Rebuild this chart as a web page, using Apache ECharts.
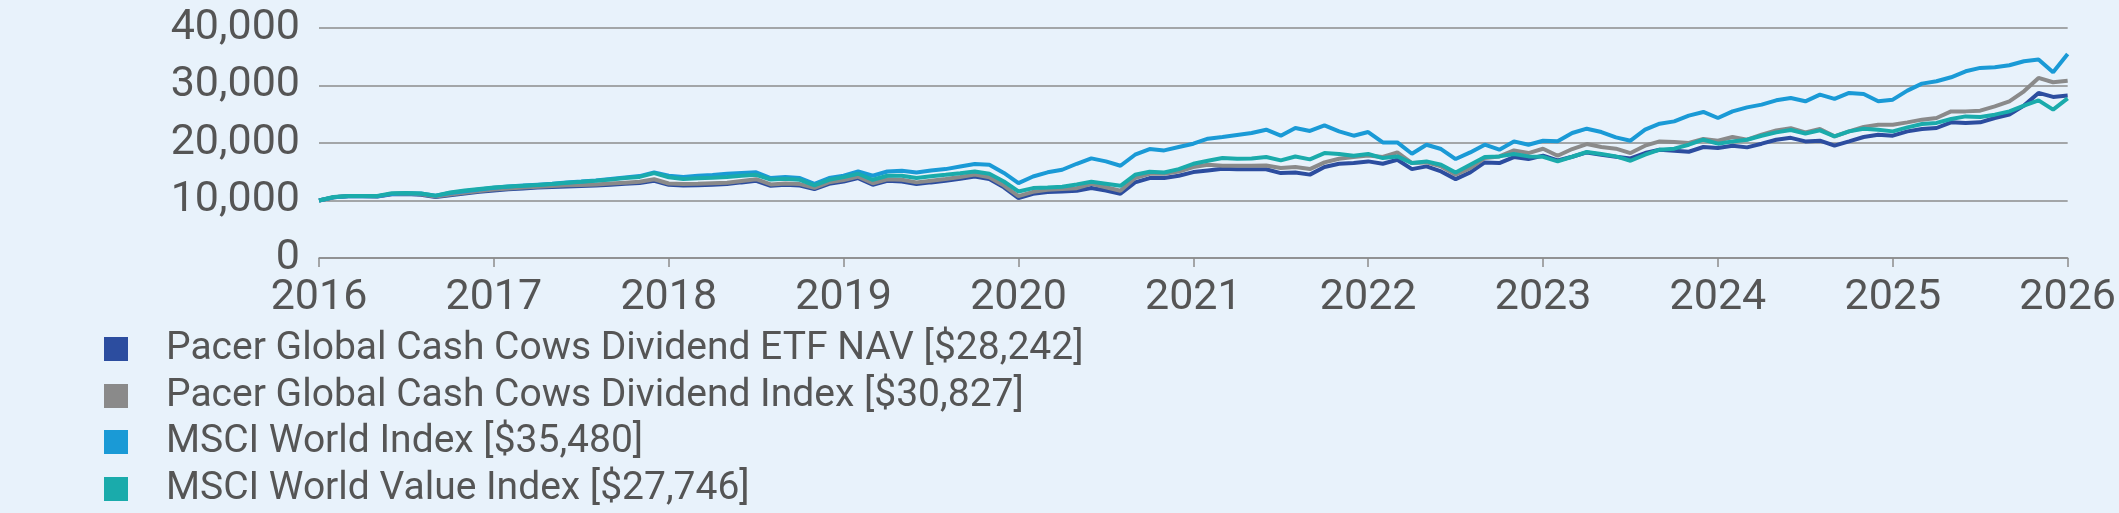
<!DOCTYPE html>
<html>
<head>
<meta charset="utf-8">
<script src="https://cdn.jsdelivr.net/npm/echarts@6/dist/echarts.min.js"></script>
<style>
  html, body { margin: 0; padding: 0; background: #e8f2fb; }
  #chart { width: 2119px; height: 513px; }
</style>
</head>
<body>
<div id="chart"></div>
<script>
// growth of $10,000, month-end values, 2016 -> 2026
var seriesNames = [
  'Pacer Global Cash Cows Dividend ETF NAV [$28,242]',
  'Pacer Global Cash Cows Dividend Index [$30,827]',
  'MSCI World Index [$35,480]',
  'MSCI World Value Index [$27,746]'
];
var colors = ['#2c4d9f', '#8a8a8a', '#1a9ad6', '#1aabab'];
var yearTicks = [2016, 2017, 2018, 2019, 2020, 2021, 2022, 2023, 2024, 2025, 2026];

var etfNav = [
  10000, 10550, 10750, 10750, 10700, 11100, 11150, 11000, 10600, 10900, 11200, 11500,
  11750, 11950, 12100, 12250, 12350, 12450, 12500, 12600, 12750, 12900, 13030, 13430,
  12730, 12620, 12650, 12750, 12860, 13150, 13430, 12560, 12730, 12600, 11980, 12910,
  13310, 13900, 12730, 13430, 13310, 12850, 13150, 13430, 13800, 14180, 13720, 12300,
  10410, 11170, 11460, 11570, 11690, 12160, 11750, 11170, 13140, 13900, 13900, 14300,
  14940, 15230, 15520, 15440, 15440, 15440, 14770, 14880, 14500, 15820, 16390, 16510,
  16800, 16390, 17090, 15460, 15930, 15050, 13720, 14880, 16620, 16510, 17560, 17210,
  17800, 16970, 17610, 18360, 17960, 17610, 17320, 18250, 18830, 18660, 18480, 19300,
  19130, 19530, 19240, 19880, 20570, 20900, 20280, 20400, 19530, 20280, 21040, 21440,
  21270, 22020, 22430, 22610, 23590, 23470, 23590, 24350, 24930, 26500, 28710, 28010,
  28242
];
var cowsIndex = [
  10000, 10570, 10770, 10770, 10720, 11150, 11200, 11080, 10700, 11050, 11350, 11650,
  11900, 12100, 12250, 12400, 12500, 12650, 12700, 12800, 12950, 13100, 13250, 13700,
  12950, 12850, 12900, 13000, 13100, 13400, 13700, 12800, 12950, 12850, 12200, 13150,
  13550, 14150, 13000, 13700, 13600, 13150, 13450, 13750, 14100, 14500, 14050, 12600,
  10750, 11500, 11850, 11980, 12150, 12910, 12300, 11690, 13900, 14650, 14650, 15050,
  15820, 16220, 16040, 16040, 16040, 16100, 15640, 15820, 15460, 16620, 17260, 17560,
  17840, 17560, 18360, 16510, 16620, 15930, 14470, 15640, 17380, 17670, 18710, 18250,
  19000, 17790, 18950, 19820, 19300, 19010, 18250, 19530, 20280, 20160, 20000, 20690,
  20400, 21040, 20570, 21440, 22190, 22580, 21850, 22430, 21150, 22020, 22780, 23190,
  23190, 23590, 24060, 24350, 25500, 25500, 25620, 26370, 27250, 28990, 31320, 30560,
  30827
];
var msciWorld = [
  10000, 10550, 10750, 10800, 10750, 11150, 11250, 11200, 10850, 11300, 11600, 11900,
  12200, 12450, 12600, 12750, 12900, 13150, 13300, 13500, 13750, 14000, 14250, 14900,
  14300, 14100, 14300, 14450, 14650, 14800, 14900, 13900, 14100, 13900, 12900, 13900,
  14300, 15050, 14300, 15050, 15170, 14880, 15200, 15460, 15900, 16340, 16230, 14800,
  13030, 14180, 14900, 15350, 16390, 17320, 16800, 16040, 17960, 18950, 18710, 19300,
  19880, 20750, 21040, 21390, 21740, 22310, 21270, 22610, 22100, 23060, 22020, 21270,
  21910, 20100, 20100, 18130, 19700, 18950, 17210, 18360, 19700, 18830, 20280, 19700,
  20400, 20300, 21740, 22490, 21910, 20970, 20400, 22310, 23360, 23760, 24750, 25400,
  24350, 25500, 26200, 26670, 27420, 27830, 27250, 28410, 27660, 28700, 28530, 27250,
  27540, 29110, 30330, 30730, 31430, 32470, 33060, 33170, 33520, 34210, 34510, 32300,
  35480
];
var msciValue = [
  10000, 10600, 10800, 10800, 10800, 11250, 11300, 11200, 10850, 11400, 11750, 12000,
  12250, 12450, 12550, 12700, 12850, 13100, 13250, 13430, 13650, 13900, 14100, 14750,
  14050, 13750, 13850, 13950, 14100, 14300, 14470, 13650, 13780, 13600, 12650, 13600,
  14070, 14650, 13600, 14300, 14300, 13900, 14200, 14470, 14750, 15050, 14650, 13300,
  11570, 12160, 12250, 12400, 12800, 13260, 12910, 12560, 14470, 15000, 14880, 15460,
  16390, 16910, 17380, 17260, 17320, 17560, 16970, 17660, 17150, 18250, 18080, 17790,
  18080, 17380, 17670, 16510, 16800, 16220, 14880, 16220, 17560, 17670, 18080, 17670,
  17600, 16800, 17610, 18430, 18080, 17670, 16910, 17960, 18830, 19010, 19700, 20570,
  19880, 20280, 20570, 21270, 21850, 22250, 21650, 22190, 21150, 22020, 22490, 22310,
  22020, 22720, 23310, 23490, 24180, 24630, 24520, 24930, 25500, 26500, 27420, 25800,
  27746
];

var allValues = [etfNav, cowsIndex, msciWorld, msciValue];
var legendRows = [349, 396, 442, 489]; // centre of each legend row

// month i sits at 2016 + i/12 on the year axis
function toPoints(values) {
  return values.map(function (v, i) { return [yearTicks[0] + i / 12, v]; });
}

var chart = echarts.init(document.getElementById('chart'));
var option = {
  backgroundColor: '#e8f2fb',
  animation: false,
  color: colors,
  textStyle: { fontFamily: 'Roboto' },
  grid: { left: 319, right: 45, top: 28, height: 230 },
  xAxis: {
    type: 'value',
    min: yearTicks[0],
    max: yearTicks[yearTicks.length - 1],
    interval: 1,
    axisLine: { show: true, lineStyle: { color: '#8c8c8c', width: 1.5 } },
    axisTick: { show: true, length: 9, lineStyle: { color: '#8c8c8c', width: 1.5 } },
    axisLabel: {
      color: '#555555', fontSize: 43, margin: 19,
      formatter: function (v) { return String(v); }
    },
    splitLine: { show: false }
  },
  yAxis: {
    type: 'value',
    min: 0,
    max: 40000,
    interval: 10000,
    axisLine: { show: false },
    axisTick: { show: false },
    axisLabel: {
      color: '#555555', fontSize: 43, margin: 19,
      formatter: function (v) { return v.toLocaleString('en-US'); }
    },
    splitLine: { lineStyle: { color: '#8c8c8c', width: 1.5 } }
  },
  // one legend per row so the rows sit where the reference has them
  legend: seriesNames.map(function (name, k) {
    return {
      orient: 'vertical',
      left: 104,
      top: legendRows[k] - 20,
      padding: 0,
      icon: 'rect',
      itemWidth: 24,
      itemHeight: 24,
      textStyle: { color: '#555555', fontSize: 39, lineHeight: 40, padding: [0, 0, 0, 33] },
      data: [name]
    };
  }),
  series: seriesNames.map(function (name, k) {
    return {
      name: name,
      type: 'line',
      data: toPoints(allValues[k]),
      showSymbol: false,
      symbol: 'none',
      lineStyle: { width: 4, color: colors[k] },
      itemStyle: { color: colors[k] }
    };
  })
};
chart.setOption(option);
</script>
</body>
</html>
